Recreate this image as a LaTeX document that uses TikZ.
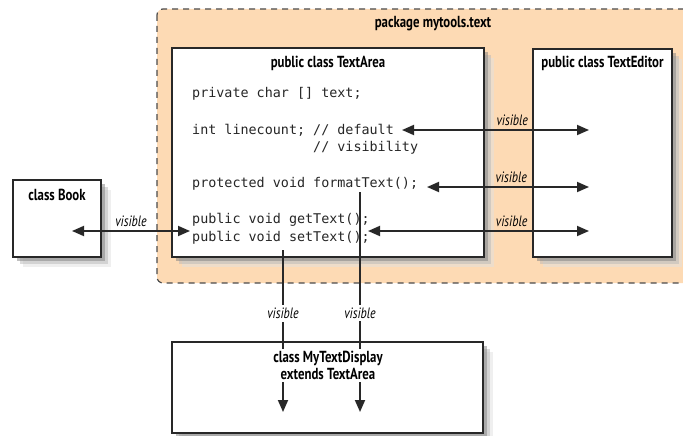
\documentclass[tikz,border=0pt]{standalone}
\usepackage{fontspec}
\setmainfont{PT Sans}[FakeStretch=0.8]
\setmonofont{DejaVu Sans Mono}
\usepackage{tikz}
\usetikzlibrary{arrows.meta,shadows}
\definecolor{peach}{RGB}{253,218,180}
\definecolor{boxline}{RGB}{40,40,40}
\def\tipl{12pt}
\def\tipw{10pt}

\begin{document}
\begin{tikzpicture}[x=1pt, y=-1pt,
	classbox/.style={draw=boxline, line width=2pt, fill=white,
		drop shadow={shadow xshift=10pt, shadow yshift=-10pt, fill=black!12},
		drop shadow={shadow xshift=7pt, shadow yshift=-7pt, fill=black!28},
		drop shadow={shadow xshift=4pt, shadow yshift=-4pt, fill=black!50}},
	title/.style={font=\fontsize{16}{17}\selectfont\bfseries},
	code/.style={font=\fontsize{13.4}{18}\selectfont\ttfamily, anchor=west, inner sep=0pt, text=black!85},
	vis/.style={font=\fontsize{15}{16}\selectfont\itshape},
	link/.style={line width=1.8pt, draw=boxline, {Triangle[length=\tipl,width=\tipw]}-{Triangle[length=\tipl,width=\tipw]}},
	down/.style={line width=1.8pt, draw=boxline, -{Triangle[length=\tipl,width=\tipw]}}]
	\useasboundingbox (0,0) rectangle (683,436);
	\clip (0,0) rectangle (683,436);
	%\draw[step=50pt, black!20] (0,0) grid (683,436);
	% package
	\draw[fill=peach, draw=black!70, dash pattern=on 6pt off 5pt, line width=1.2pt, rounded corners=6pt] (157,9) rectangle (720,283);
	\node[title] (pkg) at (433,24) {package mytools.text};
	% classes
	\node[classbox, minimum width=312pt, minimum height=209pt] (textarea) at (328,152.5) {};
	\node[classbox, minimum width=139pt, minimum height=208pt] (editor) at (602.5,153) {};
	\node[classbox, minimum width=88pt, minimum height=77pt] (book) at (57,218.5) {};
	\node[classbox, minimum width=311pt, minimum height=91pt] (display) at (327.5,387.5) {};
	\node[title] (tatitle) at (328,63) {public class TextArea};
	\node[title] (edtitle) at (602.5,63) {public class TextEditor};
	\node[title] (bktitle) at (57,195) {class Book};
	% members
	\node[code] (priv) at (192,94) {private char [] text;};
	\node[code] (lcnt) at (192,130) {int linecount; // default};
	\node[code] (lcnt2) at (313,148) {// visibility};
	\node[code] (fmt) at (192,184) {protected void formatText();};
	\node[code] (get) at (192,220) {public void getText();};
	\node[code] (set) at (192,238) {public void setText();};
	% arrow ends
	\coordinate (lcL) at (402,130);
	\coordinate (lcR) at (589,130);
	\coordinate (fmtL) at (427,187);
	\coordinate (fmtR) at (589,187);
	\coordinate (setL) at (368,231);
	\coordinate (setR) at (589,231);
	\coordinate (bookL) at (72,231);
	\coordinate (bookR) at (190,231);
	\coordinate (getB) at (283,250);
	\coordinate (getD) at (283,412);
	\coordinate (fmtB) at (360,192);
	\coordinate (fmtD) at (360,412);
	\draw[link] (lcL) -- node[vis, above=0pt, pos=0.59] (v1) {visible} (lcR);
	\draw[link] (fmtL) -- node[vis, above=0pt, pos=0.52] (v2) {visible} (fmtR);
	\draw[link] (setL) -- node[vis, above=0pt, pos=0.65] (v3) {visible} (setR);
	\draw[link] (bookL) -- node[vis, above=0pt] (v4) {visible} (bookR);
	\draw[down] (getB) -- node[vis, fill=white, inner sep=3pt, pos=0.39] (v5) {visible} (getD);
	\draw[down] (fmtB) -- node[vis, fill=white, inner sep=3pt, pos=0.55] (v6) {visible} (fmtD);
	\node[title, align=center, fill=white, inner sep=2pt] (dstitle) at (328,365.5) {class MyTextDisplay\\extends TextArea};
\end{tikzpicture}
\end{document}
